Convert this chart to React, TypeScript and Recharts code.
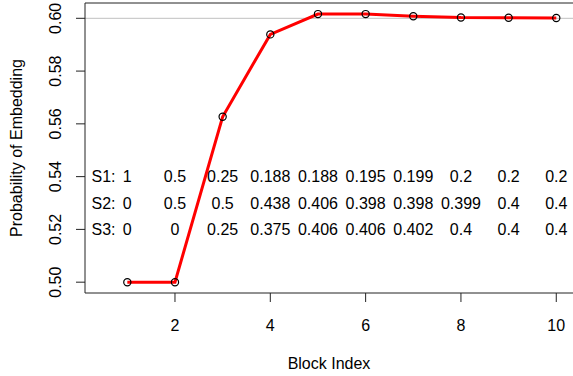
import { Line, LineChart, ReferenceDot, ReferenceLine, XAxis, YAxis } from "recharts";

const blocks = [1, 2, 3, 4, 5, 6, 7, 8, 9, 10];
const probability = [0.5, 0.5, 0.5627, 0.5939, 0.6016, 0.6016, 0.6008, 0.6003, 0.6002, 0.6001];
const s1 = ["1", "0.5", "0.25", "0.188", "0.188", "0.195", "0.199", "0.2", "0.2", "0.2"];
const s2 = ["0", "0.5", "0.5", "0.438", "0.406", "0.398", "0.398", "0.399", "0.4", "0.4"];
const s3 = ["0", "0", "0.25", "0.375", "0.406", "0.406", "0.402", "0.4", "0.4", "0.4"];
const rowNames = ["S1:", "S2:", "S3:"];
const rowLevels = [0.54, 0.53, 0.52];
const xTicks = [2, 4, 6, 8, 10];
const yTicks = [0.5, 0.52, 0.54, 0.56, 0.58, 0.6];

const X_DOMAIN: [number, number] = [0.112, 10.351];
const Y_DOMAIN: [number, number] = [0.4959, 0.6058];
const FONT = "'Liberation Sans', Arial, Helvetica, sans-serif";

const data = blocks.map((b, i) => ({ block: b, p: probability[i] }));
const rows = [s1, s2, s3];

function XTick(props: any) {
  const { x, y, payload } = props;
  return (
    <text x={x} y={y + 21} dy="0.36em" textAnchor="middle" fontSize={16} fontFamily={FONT} fill="#000">
      {payload.value}
    </text>
  );
}

function YTick(props: any) {
  const { y, payload } = props;
  const cx = 55.5;
  return (
    <text
      x={cx}
      y={y}
      dy="0.36em"
      textAnchor="middle"
      fontSize={16}
      fontFamily={FONT}
      fill="#000"
      transform={`rotate(-90 ${cx} ${y})`}
    >
      {Number(payload.value).toFixed(2)}
    </text>
  );
}

function YLabel(props: any) {
  const vb = props.viewBox || {};
  const cy = (vb.y ?? 3) + (vb.height ?? 290) / 2;
  const cx = 16.5;
  return (
    <text
      x={cx}
      y={cy}
      dy="0.36em"
      textAnchor="middle"
      fontSize={16}
      fontFamily={FONT}
      fill="#000"
      transform={`rotate(-90 ${cx} ${cy})`}
    >
      Probability of Embedding
    </text>
  );
}

function XLabel(props: any) {
  const vb = props.viewBox || {};
  const cx = (vb.x ?? 85) + (vb.width ?? 488) / 2;
  return (
    <text x={cx} y={363} dy="0.36em" textAnchor="middle" fontSize={16} fontFamily={FONT} fill="#000">
      Block Index
    </text>
  );
}

export default function App() {
  return (
    <div style={{ position: "fixed", left: 0, top: 0, background: "#fff" }}>
      <LineChart width={573} height={376} data={data} margin={{ top: 3, right: 0, bottom: 0, left: 0 }}>
        <XAxis
          dataKey="block"
          type="number"
          domain={X_DOMAIN}
          allowDataOverflow
          ticks={xTicks}
          tickSize={9}
          height={83}
          stroke="#222"
          tick={<XTick />}
          label={<XLabel />}
        />
        <YAxis
          type="number"
          domain={Y_DOMAIN}
          allowDataOverflow
          ticks={yTicks}
          tickSize={9}
          width={85}
          stroke="#222"
          tick={<YTick />}
          label={<YLabel />}
        />
        <ReferenceLine y={Y_DOMAIN[1]} stroke="#222" strokeWidth={1} />
        <ReferenceLine y={0.6} stroke="#c0c0c0" strokeWidth={1} />
        {rows.map((row, r) => (
          <ReferenceDot
            key={`name-${r}`}
            x={0.5}
            y={rowLevels[r]}
            r={0}
            fill="none"
            stroke="none"
            label={{ value: rowNames[r], position: "center", fill: "#000", fontSize: 16, fontFamily: FONT }}
          />
        ))}
        {rows.map((row, r) =>
          row.map((v, i) => (
            <ReferenceDot
              key={`c-${r}-${i}`}
              x={blocks[i]}
              y={rowLevels[r]}
              r={0}
              fill="none"
              stroke="none"
              label={{ value: v, position: "center", fill: "#000", fontSize: 16, fontFamily: FONT }}
            />
          ))
        )}
        <Line
          dataKey="p"
          stroke="#ff0000"
          strokeWidth={3}
          isAnimationActive={false}
          dot={{ r: 3.6, stroke: "#000", strokeWidth: 1.2, fill: "none" }}
          activeDot={false}
        />
      </LineChart>
    </div>
  );
}
